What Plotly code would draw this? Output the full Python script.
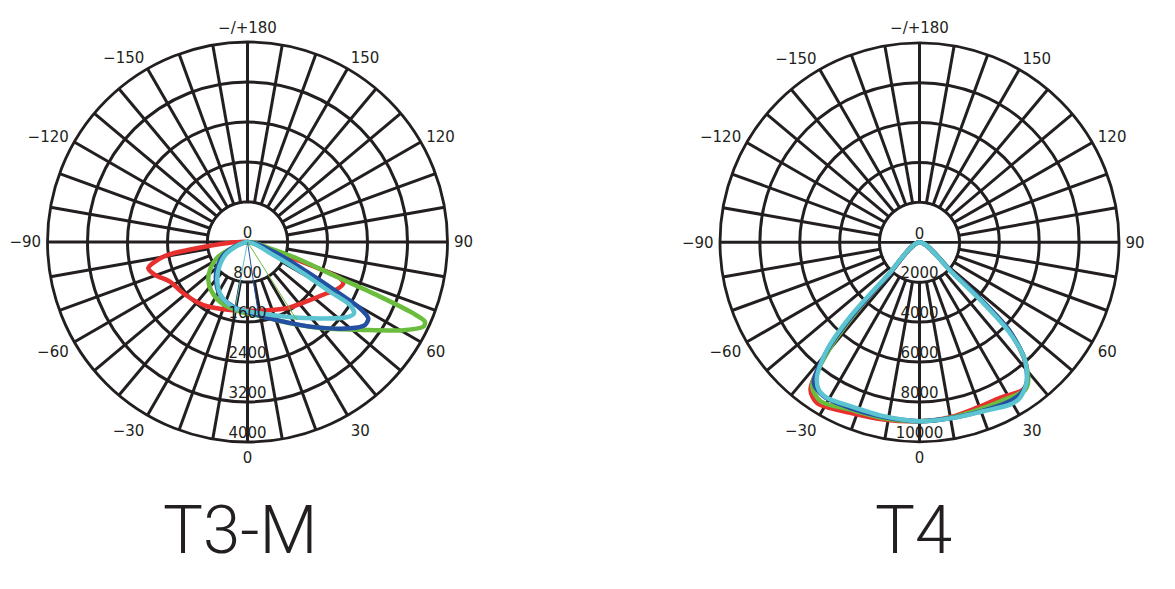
import plotly.graph_objects as go

# ---------------- data ----------------
ANGLE_TICKS = list(range(0, 360, 10))
ANGLE_LABELS = {0: "0", 30: "30", 60: "60", 90: "90", 120: "120", 150: "150",
                180: "\u2212/+180", 210: "\u2212150", 240: "\u2212120", 270: "\u221290",
                300: "\u221260", 330: "\u221230"}

# T3-M (cd scale 0..4000)
t3m_ticks = [800, 1600, 2400, 3200, 4000]
t3m_red_theta = [-90, -82.9, -80.1, -75.2, -70.4, -62.9, -51.4, -35, -14.4, 7.6, 30.6, 47.1, 57.1, 62, 66.7, 68.6, 69.8, 70.8, 90]
t3m_red_r = [0, 1024, 1710, 2052, 1964, 1742, 1644, 1540, 1404, 1386, 1540, 1706, 1887, 2020, 2087, 1987, 1332, 688, 0]
t3m_green_theta = [-70, -63.3, -53.3, -45.9, -35.8, -22.8, -6.1, 12, 27.6, 41.3, 52.8, 60.5, 64.3, 65.8, 66.7, 67.6, 68.7, 71.7, 74.3, 80]
t3m_green_r = [0, 654, 936, 1092, 1224, 1330, 1402, 1527, 1836, 2298, 2910, 3580, 3903, 3891, 3610, 2867, 1914, 1036, 467, 0]
t3m_blue_theta = [-65, -63.3, -50.7, -39.7, -27.4, -12.4, 7.2, 24.2, 39, 49.9, 54.8, 57.7, 59.5, 60.9, 63.4, 68.8, 75]
t3m_blue_r = [0, 503, 780, 987, 1194, 1324, 1471, 1747, 2197, 2680, 2877, 2858, 2612, 2042, 1324, 626, 0]
t3m_cyan_theta = [-63, -61.5, -48.8, -37.2, -25.3, -10.7, 9.9, 27.7, 43.5, 52.8, 56.2, 58.4, 58.9, 60.7, 63.3, 70]
t3m_cyan_r = [0, 474, 750, 998, 1210, 1350, 1448, 1687, 2106, 2490, 2564, 2406, 1926, 1280, 578, 0]
# thin single-angle rays (theta, r)
t3m_rays = [("cyan", -10.5, 1540), ("blue", 8.6, 1490), ("green", 32.3, 1850)]

# T4 (cd scale 0..10000)
t4_ticks = [2000, 4000, 6000, 8000, 10000]
t4_red_theta = [-45, -43.5, -42, -40, -36.5, -32.5, -22.1, -11.5, 0, 10, 19, 27.4, 35.2, 38, 42, 45.5, 47, 47.5, 48]
t4_red_r = [0, 2300, 5000, 7200, 9187, 9549, 9226, 9065, 8967, 8900, 8780, 8782, 9032, 8800, 7850, 6250, 4150, 2150, 0]
t4_green_theta = [-45, -43.5, -42, -40, -36.7, -31.9, -22.5, -11.5, 0, 10.5, 20, 27.4, 35.5, 38, 42, 45.5, 47, 47.5, 48]
t4_green_r = [0, 2300, 5050, 7150, 9002, 9386, 9073, 9000, 8967, 8930, 8900, 8950, 9100, 8850, 7880, 6280, 4170, 2170, 0]
t4_blue_theta = [-45, -43.5, -42.5, -40.5, -36.9, -31.9, -22.6, -11.6, 0, 10.8, 20.5, 29, 33, 37.3, 41.9, 45.5, 47, 47.5, 48]
t4_blue_r = [0, 2300, 5060, 7120, 8820, 9087, 9000, 8940, 8967, 8950, 9020, 9150, 9150, 8860, 7900, 6300, 4190, 2190, 0]
t4_cyan_theta = [-45, -44, -43, -40.7, -37.4, -34.4, -30.7, -22.9, -11.7, 0, 10.9, 20.7, 29.1, 32.8, 37.3, 41.9, 45, 46.5, 47, 48]
t4_cyan_r = [0, 2300, 5080, 7105, 8455, 8945, 9073, 8917, 8900, 8967, 8963, 9050, 9313, 9284, 8860, 7910, 6308, 4196, 2193, 0]

COLORS = {"red": "#e8302e", "green": "#6bbd3e", "blue": "#2350a3", "cyan": "#5cc4d0"}
GRID = "#231f20"
LABEL_FONT = dict(family="DejaVu Sans", size=15, color=GRID)
GW = 2.8

fig = go.Figure()


def add_chart(sub, ticks, curves, rays):
    hole = ticks[0]
    th = list(range(0, 361, 3))
    fig.add_trace(go.Scatterpolar(r=[hole] * len(th), theta=th, mode="lines", fill="toself",
                                  fillcolor="white", line=dict(color=GRID, width=GW),
                                  hoverinfo="skip", subplot=sub, showlegend=False))
    fig.add_trace(go.Scatterpolar(r=[hole, 0, hole], theta=[-90, 0, 90], mode="lines",
                                  line=dict(color=GRID, width=GW), hoverinfo="skip",
                                  subplot=sub, showlegend=False))
    for name, th_, r_ in curves:
        fig.add_trace(go.Scatterpolar(r=r_, theta=th_, mode="lines",
                                      line=dict(color=COLORS[name], width=4.5, shape="spline", smoothing=0.8),
                                      subplot=sub, showlegend=False, name=name))
    for name, th_, r_ in rays:
        fig.add_trace(go.Scatterpolar(r=[0, r_], theta=[th_, th_], mode="lines",
                                      line=dict(color=COLORS[name], width=1),
                                      subplot=sub, showlegend=False, hoverinfo="skip"))
    vals = [0] + ticks
    fig.add_trace(go.Scatterpolar(r=vals, theta=[0] * len(vals), mode="text",
                                  text=[str(v) for v in vals], textposition="top center",
                                  textfont=LABEL_FONT, subplot=sub, showlegend=False,
                                  hoverinfo="skip", cliponaxis=False))


add_chart("polar", t3m_ticks,
          [("red", t3m_red_theta, t3m_red_r), ("green", t3m_green_theta, t3m_green_r),
           ("blue", t3m_blue_theta, t3m_blue_r), ("cyan", t3m_cyan_theta, t3m_cyan_r)],
          t3m_rays)
add_chart("polar2", t4_ticks,
          [("red", t4_red_theta, t4_red_r), ("green", t4_green_theta, t4_green_r),
           ("blue", t4_blue_theta, t4_blue_r), ("cyan", t4_cyan_theta, t4_cyan_r)],
          [])


def polar_layout(domain_x, domain_y, ticks):
    return dict(
        domain=dict(x=domain_x, y=domain_y),
        bgcolor="white",
        radialaxis=dict(range=[0, ticks[-1]], tickmode="array", tickvals=ticks,
                        showticklabels=False, ticks="", showline=False,
                        gridcolor=GRID, gridwidth=GW),
        angularaxis=dict(rotation=-90, direction="counterclockwise",
                         tickmode="array", tickvals=ANGLE_TICKS,
                         ticktext=[ANGLE_LABELS.get(a, "") for a in ANGLE_TICKS],
                         tickfont=LABEL_FONT, ticks="outside", ticklen=2,
                         tickcolor="rgba(0,0,0,0)",
                         showline=True, linecolor=GRID, linewidth=GW,
                         gridcolor=GRID, gridwidth=GW),
    )


W, H = 1175, 589
fig.update_layout(
    width=W, height=H, autosize=False,
    margin=dict(l=0, r=0, t=0, b=0),
    paper_bgcolor="white", plot_bgcolor="white",
    polar=polar_layout([39.5 / W, 439.5 / W], [155 / H, 555 / H], t3m_ticks),
    polar2=polar_layout([712 / W, 1111 / W], [155.2 / H, 554.2 / H], t4_ticks),
    annotations=[
        dict(text="T3-M", x=232 / W, y=67 / H, xref="paper", yref="paper",
             showarrow=False, xanchor="center", yanchor="middle",
             font=dict(family="Roboto", size=67, weight=300, color=GRID)),
        dict(text="T4", x=905 / W, y=67 / H, xref="paper", yref="paper",
             showarrow=False, xanchor="center", yanchor="middle",
             font=dict(family="Roboto", size=67, weight=300, color=GRID)),
    ],
)

fig.write_html("out.html")
